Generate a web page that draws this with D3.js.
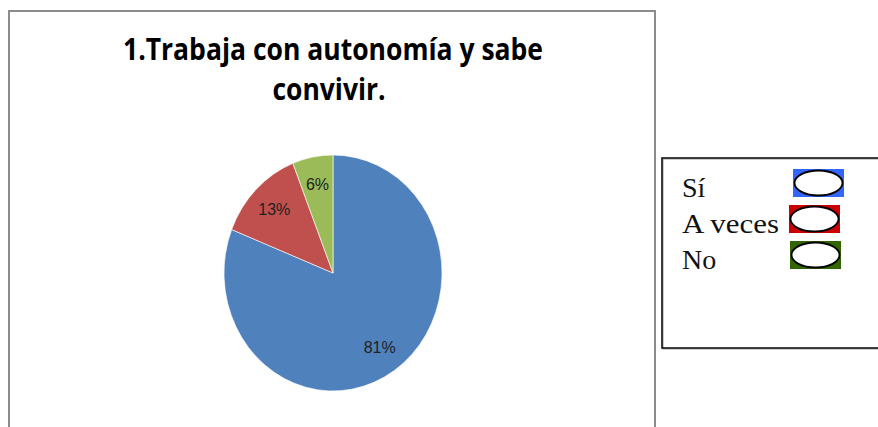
<!DOCTYPE html>
<html>
<head>
  <meta charset="utf-8">
  <title>Trabaja con autonomía</title>
  <script src="https://d3js.org/d3.v7.min.js"></script>
  <style>
    body { margin: 0; background: #fff; }
    svg { display: block; }
    .pct { font-family: "Liberation Sans", Arial, sans-serif; font-size: 16px; fill: #222; }
    .title { font-family: "Open Sans", "Liberation Sans", sans-serif; font-weight: bold; font-size: 30px; fill: #000; }
    .leg { font-family: "Liberation Serif", "Times New Roman", serif; font-size: 28px; fill: #111; }
  </style>
</head>
<body>
  <svg width="878" height="427"></svg>
  <script>
    var categories = ["Sí", "A veces", "No"];
    var values = [81, 13, 6];
    var sliceColors = ["#4f81bd", "#c0504d", "#9bbb59"];
    var legendColors = ["#3366ff", "#cc0000", "#336600"];
    var titleLines = ["1.Trabaja con autonomía y sabe", "convivir."];

    var svg = d3.select("svg");

    // chart frame
    svg.append("path")
      .attr("d", "M9,430 V11 H655 V430")
      .attr("fill", "none")
      .attr("stroke", "#8c8c8c")
      .attr("stroke-width", 2);

    // title
    svg.append("text").attr("class", "title")
      .attr("x", 333).attr("y", 60)
      .attr("text-anchor", "middle")
      .attr("textLength", 420).attr("lengthAdjust", "spacingAndGlyphs")
      .text(titleLines[0]);
    svg.append("text").attr("class", "title")
      .attr("x", 329).attr("y", 100)
      .attr("text-anchor", "middle")
      .attr("textLength", 113).attr("lengthAdjust", "spacingAndGlyphs")
      .text(titleLines[1]);

    // pie (drawn a bit taller than wide, as in the picture)
    var cx = 333, cy = 273, r = 109, sy = 118 / 109;
    var pie = d3.pie().sort(null).value(function (d) { return d; });
    var arcs = pie(values);
    var arc = d3.arc().innerRadius(0).outerRadius(r);
    var labelArc = d3.arc().innerRadius(83).outerRadius(83);

    var g = svg.append("g")
      .attr("transform", "translate(" + cx + "," + cy + ") scale(1," + sy + ")");
    g.selectAll("path")
      .data(arcs)
      .enter()
      .append("path")
      .attr("d", arc)
      .attr("fill", function (d, i) { return sliceColors[i]; })
      .attr("stroke", "#fff")
      .attr("stroke-width", 0.6);

    svg.selectAll("text.pct")
      .data(arcs)
      .enter()
      .append("text")
      .attr("class", "pct")
      .attr("x", function (d) { return cx + labelArc.centroid(d)[0]; })
      .attr("y", function (d) { return cy + labelArc.centroid(d)[1] * sy; })
      .attr("text-anchor", "middle")
      .attr("dy", "0.35em")
      .text(function (d) { return d.data + "%"; });

    // legend box
    svg.append("rect")
      .attr("x", 663).attr("y", 159).attr("width", 240).attr("height", 190)
      .attr("fill", "none").attr("stroke", "#999").attr("stroke-width", 1);
    svg.append("rect")
      .attr("x", 662).attr("y", 158).attr("width", 240).attr("height", 190)
      .attr("fill", "none").attr("stroke", "#111").attr("stroke-width", 1.6);

    var swX = [793, 789, 790];
    var legY = d3.scaleBand().domain(categories).range([169, 277]).padding(0);
    var leg = svg.selectAll("g.legitem")
      .data(categories)
      .enter()
      .append("g")
      .attr("class", "legitem");

    leg.append("text")
      .attr("class", "leg")
      .attr("x", 682)
      .attr("y", function (d) { return legY(d) + 28; })
      .attr("textLength", function (d) { return d === "A veces" ? 97 : null; })
      .attr("lengthAdjust", "spacingAndGlyphs")
      .text(function (d) { return d; });

    leg.append("rect")
      .attr("x", function (d, i) { return swX[i]; })
      .attr("y", function (d) { return legY(d); })
      .attr("width", 51).attr("height", 28)
      .attr("fill", function (d, i) { return legendColors[i]; });

    leg.append("ellipse")
      .attr("cx", function (d, i) { return swX[i] + 25.5; })
      .attr("cy", function (d) { return legY(d) + 14; })
      .attr("rx", 24).attr("ry", 12.5)
      .attr("fill", "#fff")
      .attr("stroke", "#000")
      .attr("stroke-width", 1.8);
  </script>
</body>
</html>
